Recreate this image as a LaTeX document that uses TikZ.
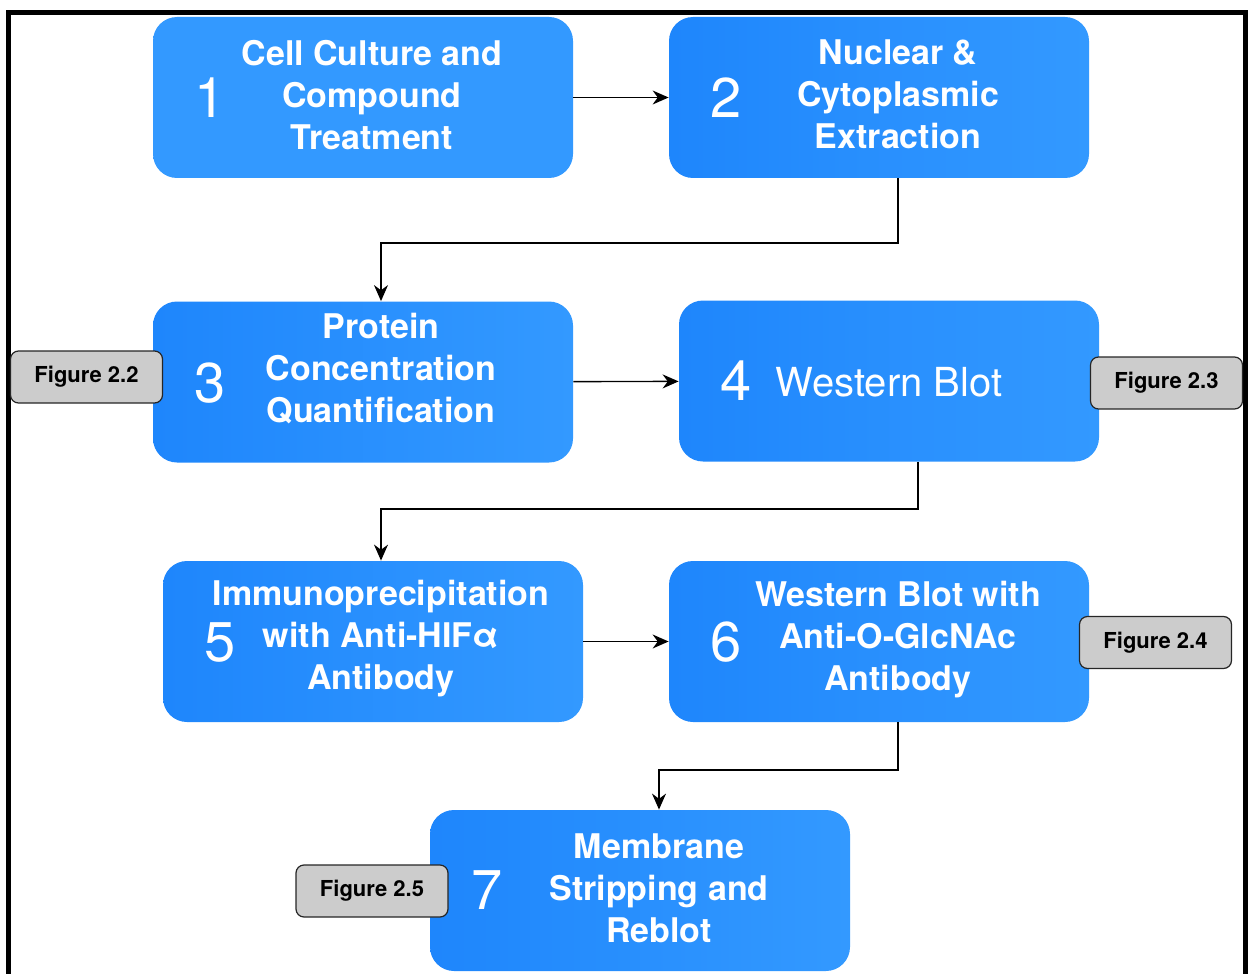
\documentclass[tikz,border=0pt]{standalone}
\usepackage{fontspec}
\setmainfont{TeX Gyre Heros}
\usetikzlibrary{arrows.meta}
\definecolor{stepblue}{HTML}{1E86FC}
\definecolor{steplight}{HTML}{3399FF}
\definecolor{figgray}{HTML}{CCCCCC}

\begin{document}
\begin{tikzpicture}[x=0.5pt,y=-0.5pt,
  stepbox/.style={rounded corners=12pt, minimum width=210pt, minimum height=80.5pt, inner sep=0pt, left color=stepblue, right color=steplight},
  stepnum/.style={text=white, font=\fontsize{28}{30}\selectfont},
  steptext/.style={text=white, align=center, font=\bfseries\fontsize{17}{21}\selectfont},
  figlabel/.style={draw=black!85, line width=0.6pt, fill=figgray, rounded corners=4pt, minimum width=76pt, minimum height=26pt, inner sep=0pt, font=\bfseries\fontsize{11}{13}\selectfont},
  flow/.style={-{Stealth[length=8pt,width=7pt]}, line width=0.7pt}]

	\useasboundingbox (0,0) rectangle (1248,974);

	% outer frame, open at the bottom
	\draw [black, line width=2.6pt] (8.5,1000) -- (8.5,12.5) -- (1245.5,12.5) -- (1245.5,1000);

	% steps
	\node[stepbox, left color=steplight] (b1) at (363,97.5) {};
	\node[stepbox] (b2) at (879,97.5) {};
	\node[stepbox] (b3) at (363,382) {};
	\node[stepbox] (b4) at (889,381) {};
	\node[stepbox] (b5) at (373,641.5) {};
	\node[stepbox] (b6) at (879,641.5) {};
	\node[stepbox] (b7) at (640,890.5) {};

	\node[stepnum] (n1) at (210,98) {1};
	\node[stepnum] (n2) at (726,98) {2};
	\node[stepnum] (n3) at (210,383) {3};
	\node[stepnum] (n4) at (736,381) {4};
	\node[stepnum] (n5) at (220,642) {5};
	\node[stepnum] (n6) at (726,642) {6};
	\node[stepnum] (n7) at (487,890) {7};

	\node[steptext] (t1) at (372,95) {Cell Culture and\\Compound\\Treatment};
	\node[steptext] (t2) at (898,94) {Nuclear \&\\Cytoplasmic\\Extraction};
	\node[steptext] (t3) at (381,369) {Protein\\Concentration\\Quantification};
	\node[steptext, font=\fontsize{20}{24}\selectfont] (t4) at (889,382) {Western Blot};
	\node[steptext] (t5) at (381,639) {Immunoprecipitation\\with Anti-HIFα\\Antibody};
	\node[steptext] (t6) at (898,640) {Western Blot with\\Anti-O-GlcNAc\\Antibody};
	\node[steptext] (t7) at (659,888) {Membrane\\Stripping and\\Reblot};

	% figure references
	\node[figlabel] (f22) at (86.5,377) {Figure 2.2};
	\node[figlabel] (f23) at (1166.5,383) {Figure 2.3};
	\node[figlabel] (f24) at (1155.5,642.5) {Figure 2.4};
	\node[figlabel] (f25) at (372,891) {Figure 2.5};

	% connectors
	\coordinate (k23) at (898,243);
	\coordinate (k45) at (918,509);
	\coordinate (k67) at (898,770);
	\draw [flow] (b1) -- (b2);
	\draw [flow] (k23 |- b2.south) -- (k23) -| (t3 |- b3.north);
	\draw [flow] (b3) -- (b4);
	\draw [flow] (k45 |- b4.south) -- (k45) -| (t5 |- b5.north);
	\draw [flow] (b5) -- (b6);
	\draw [flow] (k67 |- b6.south) -- (k67) -| (t7 |- b7.north);
\end{tikzpicture}
\end{document}
